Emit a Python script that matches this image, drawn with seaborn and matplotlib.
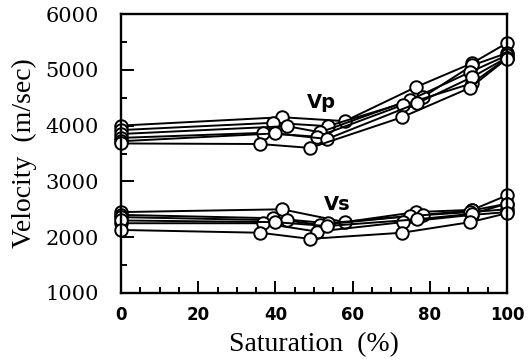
import numpy as np
import pandas as pd
import matplotlib
matplotlib.use("Agg")
import matplotlib.pyplot as plt
import seaborn as sns
from matplotlib.ticker import MultipleLocator

# ---- data ----
samples = ["A", "B", "C", "D", "E", "F"]
sat_A = [0, 41.7, 58.0, 76.4, 91.0, 100]
sat_B = [0, 39.4, 53.6, 78.2, 91.0, 100]
sat_C = [0, 43.0, 51.6, 74.9, 90.5, 100]
sat_D = [0, 36.8, 50.8, 73.0, 91.0, 100]
sat_E = [0, 39.9, 53.4, 76.7, 91.0, 100]
sat_F = [0, 36.0, 49.0, 72.8, 90.5, 100]

vp_A = [4000, 4150, 4080, 4690, 5120, 5480]
vp_B = [3920, 4050, 3990, 4510, 5080, 5300]
vp_C = [3850, 3990, 3880, 4460, 4960, 5260]
vp_D = [3780, 3870, 3800, 4370, 4760, 5210]
vp_E = [3720, 3860, 3760, 4400, 4870, 5220]
vp_F = [3680, 3670, 3600, 4150, 4680, 5200]

vs_A = [2450, 2500, 2270, 2450, 2490, 2750]
vs_B = [2400, 2340, 2250, 2400, 2480, 2600]
vs_C = [2360, 2300, 2220, 2380, 2450, 2500]
vs_D = [2250, 2250, 2100, 2270, 2400, 2450]
vs_E = [2300, 2270, 2200, 2320, 2420, 2600]
vs_F = [2130, 2080, 1970, 2080, 2270, 2430]

x_ticks = [0, 20, 40, 60, 80, 100]
y_ticks = [1000, 2000, 3000, 4000, 5000, 6000]

sats = [sat_A, sat_B, sat_C, sat_D, sat_E, sat_F]
vps = [vp_A, vp_B, vp_C, vp_D, vp_E, vp_F]
vss = [vs_A, vs_B, vs_C, vs_D, vs_E, vs_F]

rows = []
for s, sat, vp, vs in zip(samples, sats, vps, vss):
    for i, (x, p, v) in enumerate(zip(sat, vp, vs)):
        rows.append({"sample": s + "_p", "sat": x, "vel": p, "order": i})
        rows.append({"sample": s + "_s", "sat": x, "vel": v, "order": i})
df = pd.DataFrame(rows)

sns.set_theme(style="white")
plt.rcParams["font.family"] = ["DejaVu Sans"]

fig = plt.figure(figsize=(5.28, 3.61), dpi=100)
ax = fig.add_axes([121/528, 1 - 293/361, (507-121)/528, (293-14)/361])

sns.lineplot(data=df, x="sat", y="vel", units="sample", estimator=None,
             sort=False, color="black", lw=1.4, marker="o", markersize=9,
             markerfacecolor="white", markeredgecolor="black",
             markeredgewidth=1.4, ax=ax, legend=False, clip_on=False)

ax.set_xlim(0, 100)
ax.set_ylim(1000, 6000)
ax.set_xticks(x_ticks)
ax.set_yticks(y_ticks)
ax.xaxis.set_minor_locator(MultipleLocator(5))
ax.yaxis.set_minor_locator(MultipleLocator(500))
ax.tick_params(which="both", direction="in", color="black", width=1.4,
               top=False, right=False, bottom=True, left=True)
ax.tick_params(which="major", length=9)
ax.tick_params(which="minor", length=4.5)
ax.tick_params(axis="x", pad=9)
ax.tick_params(axis="y", pad=16)

for lab in ax.get_xticklabels():
    lab.set_fontfamily("DejaVu Sans")
    lab.set_fontsize(12)
    lab.set_fontweight("bold")
    lab.set_color("black")
for lab in ax.get_yticklabels():
    lab.set_fontfamily("DejaVu Serif")
    lab.set_fontsize(15)
    lab.set_color("black")

for sp in ax.spines.values():
    sp.set_color("black")
    sp.set_linewidth(1.7)

ax.set_xlabel("Saturation  (%)", family="Liberation Serif", fontsize=20,
              color="black", labelpad=6)
ax.set_ylabel("Velocity  (m/sec)", family="Liberation Serif", fontsize=20,
              color="black", labelpad=6)

ax.text(52, 4420, "Vp", ha="center", va="center", fontsize=14, color="black",
        fontweight="bold", family="DejaVu Sans")
ax.text(56, 2590, "Vs", ha="center", va="center", fontsize=14, color="black",
        fontweight="bold", family="DejaVu Sans")

fig.savefig("out.png", dpi=100)
